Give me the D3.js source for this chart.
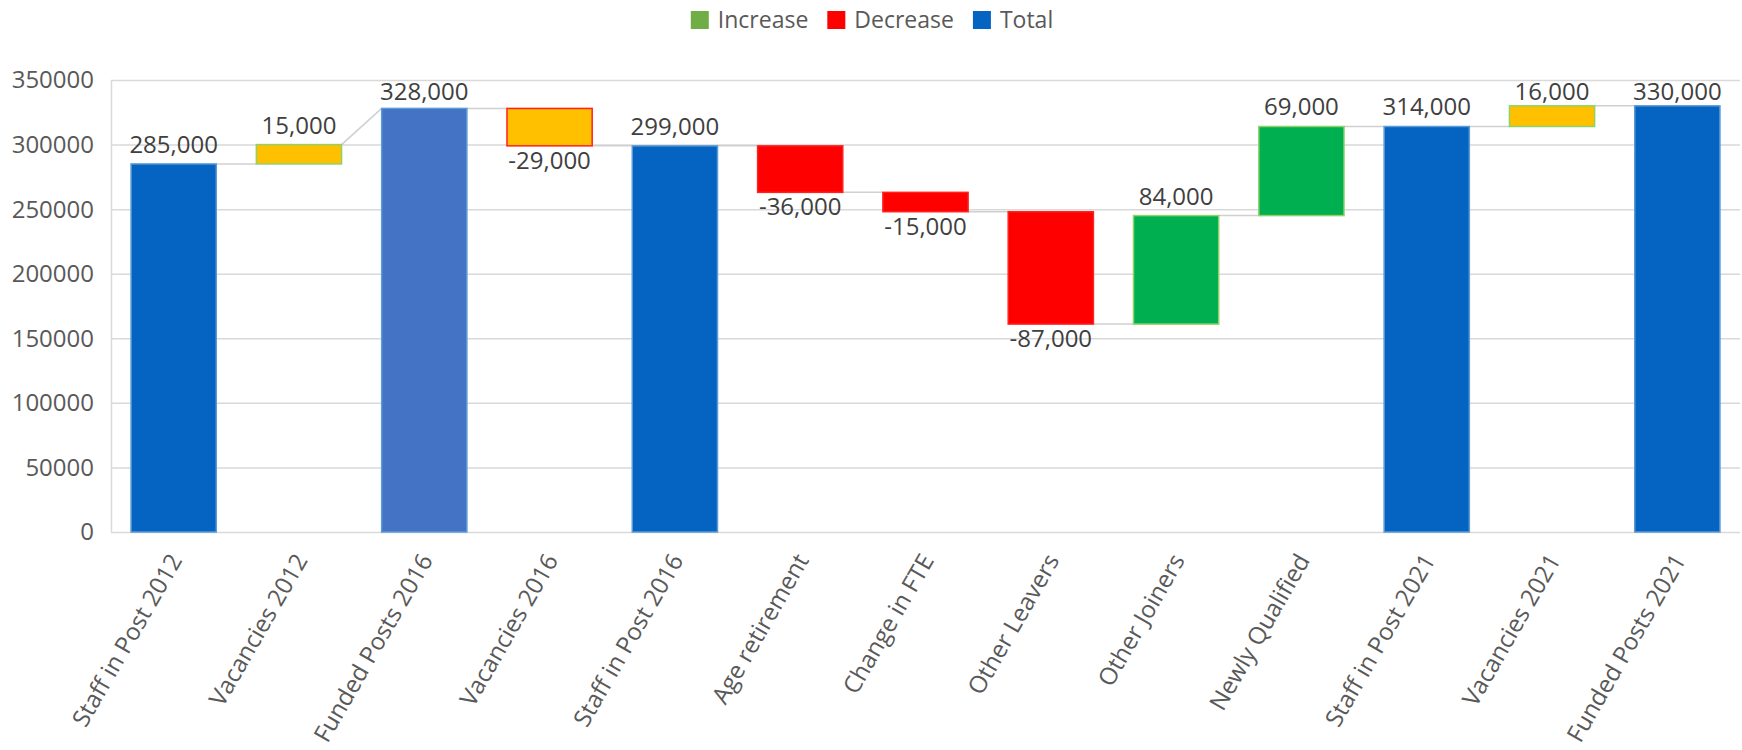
<!DOCTYPE html>
<html>
<head>
<meta charset="utf-8">
<script src="https://cdn.jsdelivr.net/npm/d3@7"></script>
<style>
  body { margin: 0; background: #fff; }
  text { font-family: "Open Sans", sans-serif; }
</style>
</head>
<body>
<div id="chart"></div>
<script>
// data
var categories = ["Staff in Post 2012", "Vacancies 2012", "Funded Posts 2016", "Vacancies 2016",
    "Staff in Post 2016", "Age retirement", "Change in FTE", "Other Leavers", "Other Joiners",
    "Newly Qualified", "Staff in Post 2021", "Vacancies 2021", "Funded Posts 2021"];
var values = [285000, 15000, 328000, -29000, 299000, -36000, -15000, -87000, 84000, 69000, 314000, 16000, 330000];
var kinds = ["total", "vacancy", "total", "vacancy", "total", "change", "change", "change", "change",
    "change", "total", "vacancy", "total"];
var yTicks = [0, 50000, 100000, 150000, 200000, 250000, 300000, 350000];
var legendLabels = ["Increase", "Decrease", "Total"];

var width = 1742, height = 750;
var margin = {left: 111, right: 2, top: 80, bottom: 218};

var svg = d3.select("#chart").append("svg")
    .attr("width", width)
    .attr("height", height);

// build the waterfall steps
var level = 0;
var steps = values.map(function(v, i) {
    var s = {name: categories[i], value: v, kind: kinds[i]};
    if (kinds[i] == "total") {
        s.start = 0; s.end = v; level = v;
    } else {
        s.start = level; s.end = level + v; level = s.end;
    }
    s.lo = Math.min(s.start, s.end);
    s.hi = Math.max(s.start, s.end);
    return s;
});

var x = d3.scaleBand()
    .domain(categories)
    .range([margin.left, width - margin.right])
    .paddingInner(0.32)
    .paddingOuter(0.16);

var y = d3.scaleLinear()
    .domain([0, 350000])
    .range([height - margin.bottom, margin.top]);

// gridlines
svg.append("g").selectAll("line")
    .data(yTicks)
    .enter().append("line")
    .attr("x1", margin.left)
    .attr("x2", width - margin.right)
    .attr("y1", function(d) { return y(d) + 0.5; })
    .attr("y2", function(d) { return y(d) + 0.5; })
    .style("stroke", "#d9d9d9")
    .style("stroke-width", 1.5);

svg.append("line")
    .attr("x1", margin.left + 0.5).attr("x2", margin.left + 0.5)
    .attr("y1", y(350000)).attr("y2", y(0))
    .style("stroke", "#d9d9d9")
    .style("stroke-width", 1.5);

// y tick labels
svg.append("g").selectAll("text")
    .data(yTicks)
    .enter().append("text")
    .attr("x", margin.left - 17)
    .attr("y", function(d) { return y(d); })
    .attr("dy", "0.35em")
    .attr("text-anchor", "end")
    .style("font-size", "24px")
    .style("fill", "#595959")
    .text(function(d) { return d; });

// connectors between bars
function joinLevel(s) { return s.kind == "total" ? s.end : s.start; }
svg.append("g").selectAll("line")
    .data(steps.slice(0, -1))
    .enter().append("line")
    .attr("x1", function(d) { return x(d.name) + x.bandwidth(); })
    .attr("y1", function(d) { return y(d.end); })
    .attr("x2", function(d, i) { return x(steps[i + 1].name); })
    .attr("y2", function(d, i) { return y(joinLevel(steps[i + 1])); })
    .style("stroke", "#d0d0d0")
    .style("stroke-width", 1.5);

function fillOf(d) {
    if (d.name == "Funded Posts 2016") return "#4472c4";
    if (d.kind == "total") return "#0563c1";
    if (d.kind == "vacancy") return "#ffc000";
    return d.value > 0 ? "#00b050" : "#ff0000";
}
function strokeOf(d) {
    if (d.kind == "total") return "#5b9bd5";
    return d.value > 0 ? "#8fd16a" : "#ff2020";
}

// bars
svg.append("g").selectAll("rect")
    .data(steps)
    .enter().append("rect")
    .attr("x", function(d) { return x(d.name); })
    .attr("y", function(d) { return y(d.hi); })
    .attr("width", x.bandwidth())
    .attr("height", function(d) { return y(d.lo) - y(d.hi); })
    .style("fill", fillOf)
    .style("stroke", strokeOf)
    .style("stroke-width", 1.5);

// value labels (plain hyphen for negatives, as in the original)
var fmt = d3.format(",");
svg.append("g").selectAll("text")
    .data(steps)
    .enter().append("text")
    .attr("x", function(d) { return x(d.name) + x.bandwidth() / 2; })
    .attr("y", function(d) {
        if (d.value < 0) return y(d.lo) + 23;
        return Math.max(y(d.hi) - 11, margin.top + 20);
    })
    .attr("text-anchor", "middle")
    .style("font-size", "24px")
    .style("fill", "#404040")
    .text(function(d) { return fmt(d.value).replace("\u2212", "-"); });

// category labels
svg.append("g").selectAll("text")
    .data(categories)
    .enter().append("text")
    .attr("transform", function(d) {
        return "translate(" + (x(d) + x.bandwidth() / 2 + 2) + "," + (y(0) + 24) + ")rotate(-60)";
    })
    .attr("dy", "0.35em")
    .attr("text-anchor", "end")
    .style("font-size", "24px")
    .style("fill", "#595959")
    .text(function(d) { return d; });

// legend
var legendColors = ["#70ad47", "#ff0000", "#0563c1"];
var legend = svg.append("g");
var lx = 0;
legendLabels.forEach(function(name, i) {
    var item = legend.append("g").attr("transform", "translate(" + lx + ",0)");
    item.append("rect")
        .attr("x", 0).attr("y", 11)
        .attr("width", 18).attr("height", 18)
        .style("fill", legendColors[i]);
    var t = item.append("text")
        .attr("x", 27).attr("y", 20)
        .attr("dy", "0.35em")
        .style("font-size", "23px")
        .style("fill", "#595959")
        .text(name);
    lx += 27 + t.node().getComputedTextLength() + 19;
});
legend.attr("transform", "translate(" + (872 - (lx - 19) / 2) + ",0)");
</script>
</body>
</html>
